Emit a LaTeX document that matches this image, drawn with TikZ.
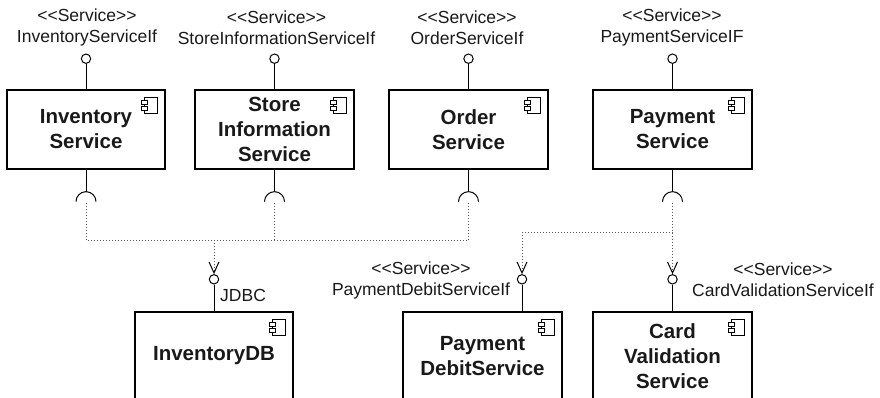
\documentclass[tikz,border=0pt]{standalone}
\usepackage{fontspec}
\setmainfont{Liberation Sans}
\usetikzlibrary{arrows.meta}
\begin{document}
\begin{tikzpicture}[x=1pt,y=1pt,
 comp/.style={draw, line width=1.3pt, minimum width=158pt, minimum height=79pt, inner sep=0pt, align=center, font=\fontsize{20.5}{25}\selectfont\bfseries, text=black!90},
 lolly/.style={draw, circle, minimum size=9.4pt, inner sep=0pt, line width=1pt, fill=white},
 wire/.style={line width=1pt},
 sock/.style={line width=1pt},
 dep/.style={line width=1pt, dash pattern=on 1pt off 2pt, gray!70!black},
 dtip/.style={-{Straight Barb[length=11pt,width=10pt,line width=1pt,color=black]}},
 lbl/.style={align=center, font=\fontsize{17.5}{21}\selectfont, inner sep=0pt, text=black!90},
 icon/.style={line width=0.9pt, fill=white}
]
\useasboundingbox (0,0) rectangle (880,-397);
\clip (0,0) rectangle (880,-397);

% top components
\node[comp] (inv) at (86,-129.5) {Inventory\\Service};
\node[comp, minimum width=159pt] (store) at (274.5,-129.5) {Store\\Information\\Service};
\node[comp, minimum width=159pt] (order) at (468.5,-129.5) {Order\\Service};
\node[comp, minimum width=159pt] (pay) at (672.5,-129.5) {Payment\\Service};

% bottom components
\node[comp, minimum height=88pt] (idb) at (214,-356) {InventoryDB};
\node[comp, minimum height=88pt, minimum width=159pt] (debit) at (482.5,-356) {Payment\\DebitService};
\node[comp, minimum height=88pt, minimum width=159pt] (card) at (672.5,-356) {Card\\Validation\\Service};

% component icons
\foreach \n in {inv,store,order,pay,idb,debit,card}{
  \begin{scope}[shift={(\n.north east)}]
    \draw[icon] (-21,-8) rectangle (-8,-24);
    \draw[icon] (-24,-11.5) rectangle (-18,-15.5);
    \draw[icon] (-24,-17) rectangle (-18,-21);
  \end{scope}
}

% provided interfaces (top)
\node[lolly] (pinv) at (86,-58.7) {};
\node[lolly] (pstore) at (274.5,-58.7) {};
\node[lolly] (porder) at (468.5,-58.7) {};
\node[lolly] (ppay) at (672.5,-58.7) {};
\foreach \n in {inv,store,order,pay}{
  \draw[wire] (p\n.south) -- (\n.north);
}

% required sockets (top boxes)
\foreach \n in {inv,store,order,pay}{
  \draw[sock] (\n.south) -- ++(0,-22) coordinate (t\n);
  \draw[sock] (t\n) ++(-10,-10) arc[start angle=180,end angle=0,radius=10];
  \path (t\n) ++(0,-11) coordinate (c\n);
}

% provided interfaces (bottom)
\node[lolly] (ldb) at (214,-279.3) {};
\node[lolly] (ldebit) at (522,-279.3) {};
\node[lolly] (lcard) at (672.5,-279.3) {};
\draw[wire] (ldb.south) -- (idb.north);
\draw[wire] (ldebit.south) -- (ldebit.south |- debit.north);
\draw[wire] (lcard.south) -- (card.north);

% dependencies
\coordinate (hub) at (214,-240);
\coordinate (phub) at (672.5,-232);
\draw[dep] (cinv) -- (cinv |- hub) -- (corder |- hub) -- (corder);
\draw[dep] (cstore) -- (cstore |- hub);
\draw[dep,dtip] (hub) -- (ldb.north);
\draw[dep,dtip] (cpay) -- (lcard.north);
\draw[dep,dtip] (phub) -- (ldebit |- phub) -- (ldebit.north);

% labels
\node[lbl] (linv) at (87,-27.5) {<{}<Service>{}>\\InventoryServiceIf};
\node[lbl] (lstore) at (276.5,-27.5) {<{}<Service>{}>\\StoreInformationServiceIf};
\node[lbl] (lorder) at (467,-27.5) {<{}<Service>{}>\\OrderServiceIf};
\node[lbl] (lpay) at (672,-27.5) {<{}<Service>{}>\\PaymentServiceIF};
\node[lbl] (ltdebit) at (421,-280) {<{}<Service>{}>\\PaymentDebitServiceIf};
\node[lbl] (ltcard) at (783,-280) {<{}<Service>{}>\\CardValidationServiceIf};
\node[lbl, anchor=west] (ljdbc) at (220,-295) {JDBC};
\end{tikzpicture}
\end{document}
